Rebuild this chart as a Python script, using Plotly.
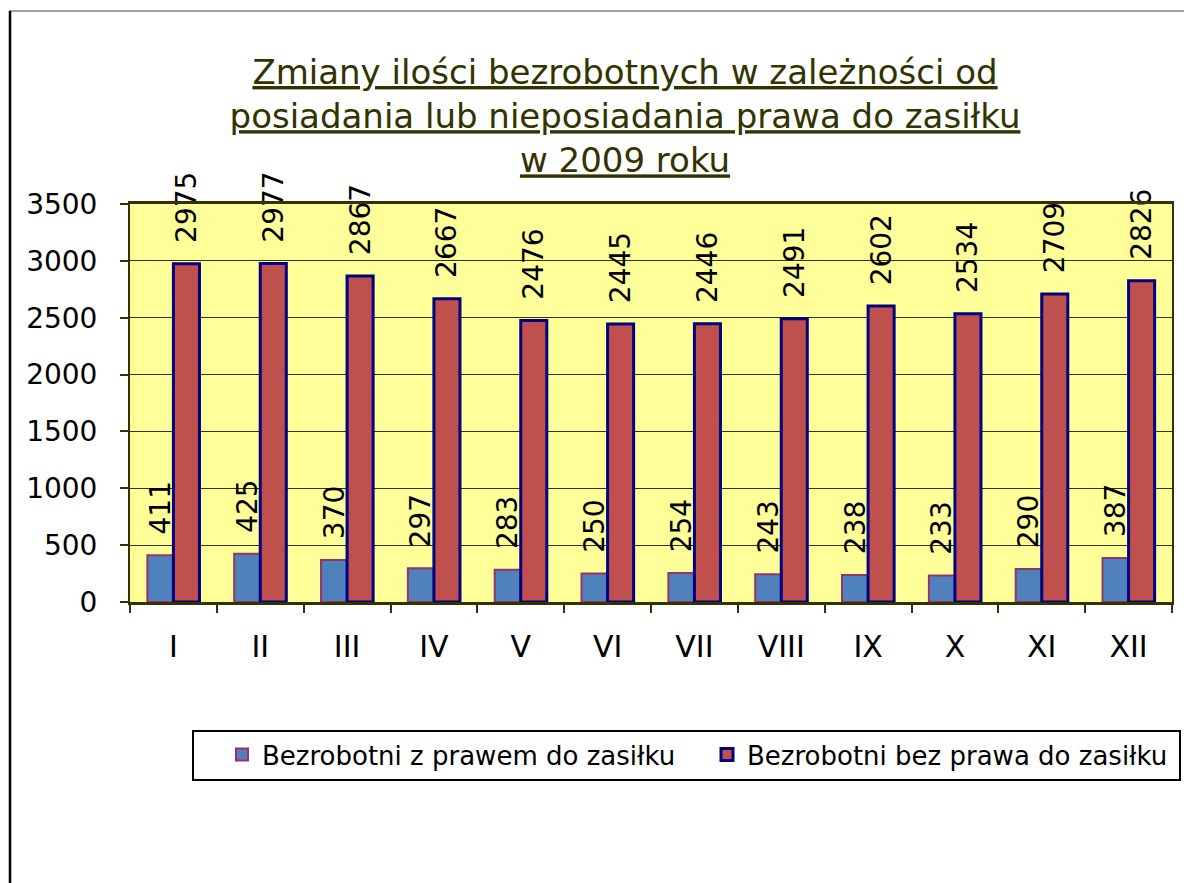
import plotly.graph_objects as go

months = ["I", "II", "III", "IV", "V", "VI", "VII", "VIII", "IX", "X", "XI", "XII"]
z_prawem = [411, 425, 370, 297, 283, 250, 254, 243, 238, 233, 290, 387]
bez_prawa = [2975, 2977, 2867, 2667, 2476, 2445, 2446, 2491, 2602, 2534, 2709, 2826]
name_z = "Bezrobotni z prawem do zasiłku"
name_bez = "Bezrobotni bez prawa do zasiłku"
title_text = ("Zmiany ilości bezrobotnych w zależności od<br>"
              "posiadania lub nieposiadania prawa do zasiłku<br>"
              "w 2009 roku")

FONT = "DejaVu Sans"
pad = "\u00a0\u00a0"

# page has an 8px body margin: work in figure coordinates = page - 8
OFF = 8
W, H = 1192 - OFF, 883 - OFF
PL, PR, PT, PB = 130 - OFF, 1172 - OFF, 204 - OFF, 602 - OFF
PW, PH = PR - PL, PB - PT


def px(x):
    return (x - OFF - PL) / PW


def py(y):
    return (PB - (y - OFF)) / PH


fig = go.Figure()
fig.add_trace(go.Bar(
    x=months, y=z_prawem, name=name_z, legend="legend",
    marker=dict(color="#4F81BD", line=dict(color="#993366", width=2)),
    text=[pad + str(v) for v in z_prawem], textposition="outside",
    textangle=-90, constraintext="none", cliponaxis=False,
    textfont=dict(family=FONT, size=28, color="black"),
))
fig.add_trace(go.Bar(
    x=months, y=bez_prawa, name=name_bez, legend="legend2",
    marker=dict(color="#C0504D", line=dict(color="#000080", width=3)),
    text=[pad + str(v) for v in bez_prawa], textposition="outside",
    textangle=-90, constraintext="none", cliponaxis=False,
    textfont=dict(family=FONT, size=28, color="black"),
))

legend_common = dict(
    orientation="h", y=py(731), xanchor="left", yanchor="top",
    bgcolor="rgba(0,0,0,0)", borderwidth=0,
    font=dict(family=FONT, size=26, color="black"),
)

fig.update_layout(
    width=W, height=H,
    margin=dict(l=PL, r=W - PR, t=PT, b=H - PB),
    paper_bgcolor="white", plot_bgcolor="#FFFF99",
    barmode="group", bargap=0.4, bargroupgap=0,
    font=dict(family=FONT, color="black"),
    title=dict(
        text=title_text, x=(625 - OFF) / W, xanchor="center", xref="container",
        y=1 - (84 - OFF) / H, yanchor="top", yref="container",
        font=dict(family=FONT, size=34, color="#333300", lineposition="under"),
    ),
    legend=dict(x=px(222), **legend_common),
    legend2=dict(x=px(707), **legend_common),
    showlegend=True,
)
fig.update_xaxes(
    showline=True, linecolor="#333300", linewidth=3, mirror=True,
    ticks="outside", tickson="boundaries", ticklen=8, tickcolor="#333300", tickwidth=2,
    tickfont=dict(family=FONT, size=30, color="black"), ticklabelstandoff=16,
    showgrid=False,
)
fig.update_yaxes(
    range=[0, 3500], dtick=500, tick0=0,
    showline=True, linecolor="#333300", linewidth=2, mirror=True,
    ticks="outside", ticklen=8, tickcolor="#333300", tickwidth=2,
    tickfont=dict(family=FONT, size=28, color="black"), ticklabelstandoff=17,
    showgrid=True, gridcolor="#333300", gridwidth=1, zeroline=False,
)

# legend frame
fig.add_shape(type="rect", xref="paper", yref="paper",
              x0=px(193), x1=px(1180), y0=py(731), y1=py(780),
              fillcolor="white", line=dict(color="black", width=2))
# outer frame of the chart object
fig.add_shape(type="line", xref="paper", yref="paper",
              x0=px(9), x1=px(1200), y0=py(11), y1=py(11),
              line=dict(color="#808080", width=1.5))
fig.add_shape(type="line", xref="paper", yref="paper",
              x0=px(10), x1=px(10), y0=py(11), y1=py(900),
              line=dict(color="black", width=2.5))

fig.write_html("out.html")
